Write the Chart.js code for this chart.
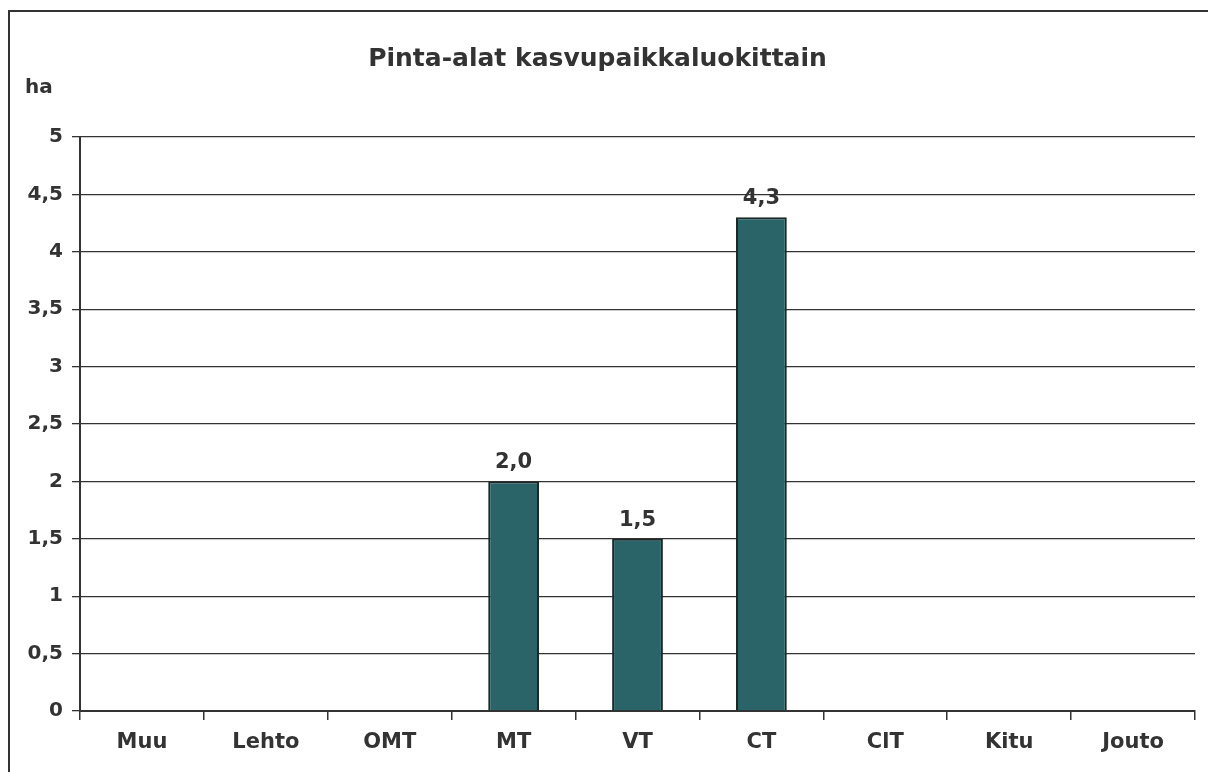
<!DOCTYPE html>
<html>
<head>
<meta charset="utf-8">
<script src="https://cdn.jsdelivr.net/npm/chart.js@4/dist/chart.umd.min.js"></script>
<style>
    html, body { margin: 0; padding: 0; background: #fff; overflow: hidden; }
    #wrap { position: absolute; left: 0; top: 0; width: 1208px; height: 772px; }
    #frame { position: absolute; left: 8px; top: 10px; width: 1300px; height: 900px;
             border-left: 2px solid #333; border-top: 2px solid #333; }
</style>
</head>
<body>
<div id="wrap">
    <div id="frame"></div>
    <canvas id="chart" width="1208" height="772"></canvas>
</div>
<script>
const categories = ['Muu', 'Lehto', 'OMT', 'MT', 'VT', 'CT', 'ClT', 'Kitu', 'Jouto'];
const areaHa = [0, 0, 0, 2.0, 1.5, 4.3, 0, 0, 0];
const yTicks = [0, 0.5, 1, 1.5, 2, 2.5, 3, 3.5, 4, 4.5, 5];

const FONT = '"DejaVu Sans", Verdana, sans-serif';
const INK = '#333';

function fi(v, digits) {
    return v.toLocaleString('fi-FI', { minimumFractionDigits: digits, maximumFractionDigits: digits });
}

// value labels above non-zero bars + the "ha" unit label
const valueLabels = {
    id: 'valueLabels',
    afterDatasetsDraw(chart) {
        const ctx = chart.ctx;
        ctx.save();
        ctx.fillStyle = INK;
        ctx.font = 'bold 21px ' + FONT;
        ctx.textAlign = 'center';
        ctx.textBaseline = 'bottom';
        chart.getDatasetMeta(0).data.forEach((bar, i) => {
            if (!areaHa[i]) return;
            ctx.fillText(fi(areaHa[i], 1), bar.x, bar.y - 8);
        });
        ctx.font = 'bold 20px ' + FONT;
        ctx.textAlign = 'left';
        ctx.textBaseline = 'middle';
        ctx.fillText('ha', 25, 88);
        ctx.restore();
    }
};

new Chart(document.getElementById('chart').getContext('2d'), {
    type: 'bar',
    data: {
        labels: categories,
        datasets: [{
            data: areaHa,
            backgroundColor: '#2a6468',
            borderColor: '#1c2728',
            borderWidth: 2,
            barPercentage: 0.41,
            categoryPercentage: 1
        }]
    },
    options: {
        responsive: false,
        animation: false,
        layout: { padding: { left: 0, right: 13, top: 0, bottom: 0 } },
        plugins: {
            legend: { display: false },
            tooltip: { enabled: false },
            title: {
                display: true,
                text: 'Pinta-alat kasvupaikkaluokittain',
                color: INK,
                font: { family: FONT, size: 25, weight: 'bold' },
                padding: { top: 44, bottom: 63 }
            }
        },
        scales: {
            x: {
                afterFit(scale) { scale.height = 61; },
                grid: { drawOnChartArea: false, drawTicks: true, tickLength: 9, color: INK, lineWidth: 1.5 },
                border: { display: true, color: INK, width: 2 },
                ticks: { color: INK, padding: 10, font: { family: FONT, size: 21, weight: 'bold' } }
            },
            y: {
                min: 0,
                max: 5,
                afterFit(scale) { scale.width = 80; },
                afterBuildTicks(scale) { scale.ticks = yTicks.map(v => ({ value: v })); },
                grid: { color: INK, lineWidth: 1.3, tickLength: 8 },
                border: { display: true, color: INK, width: 2 },
                ticks: {
                    color: INK,
                    padding: 9,
                    font: { family: FONT, size: 20, weight: 'bold' },
                    callback: v => fi(v, v % 1 ? 1 : 0)
                }
            }
        }
    },
    plugins: [valueLabels]
});
</script>
</body>
</html>
